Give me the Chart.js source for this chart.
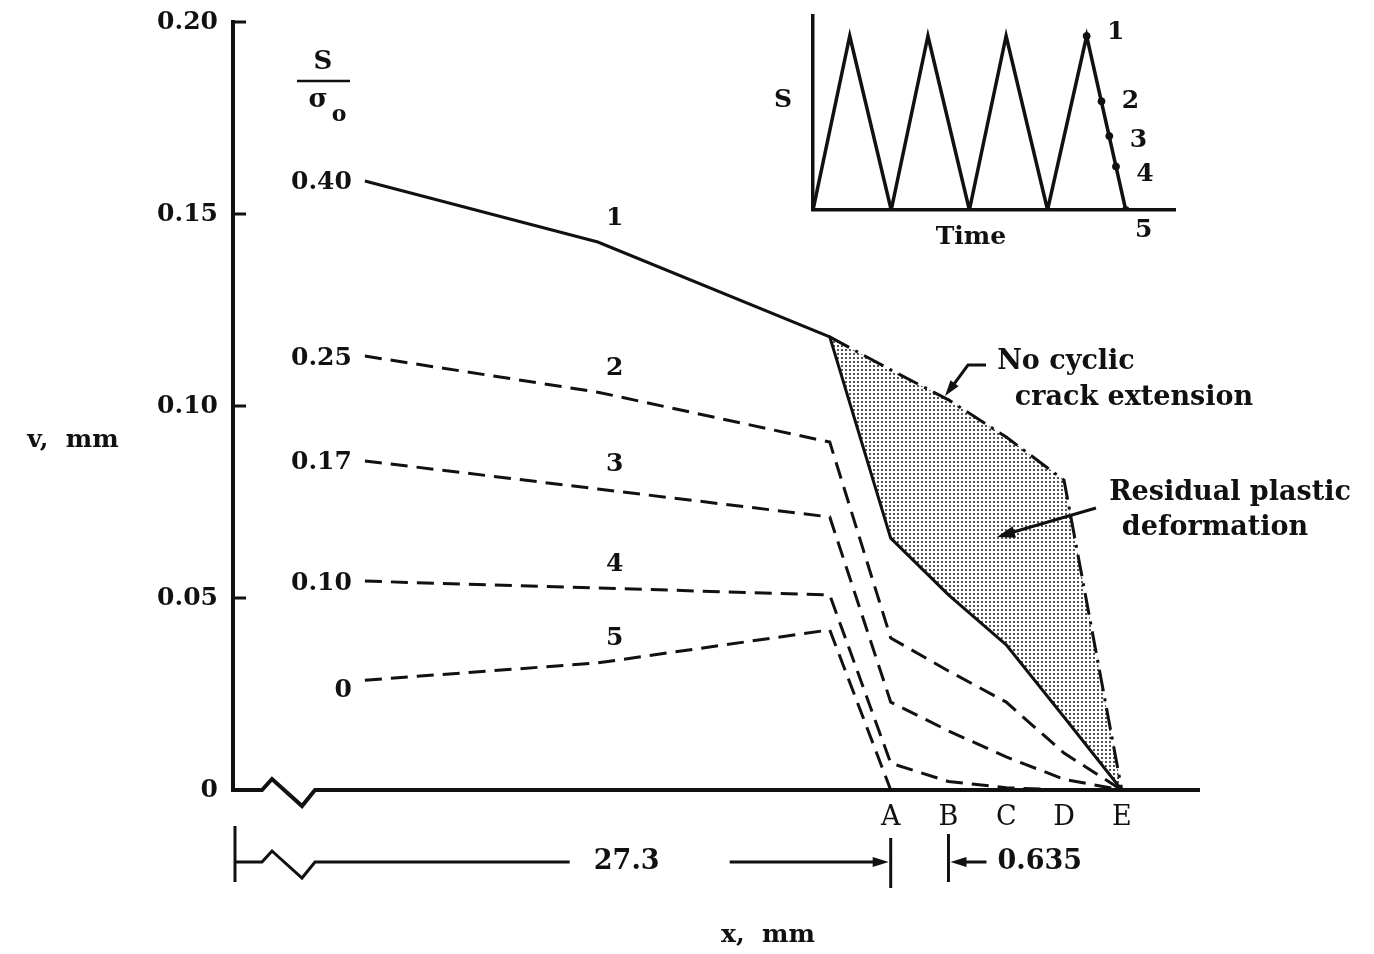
<!DOCTYPE html>
<html>
<head>
<meta charset="utf-8">
<script src="https://cdn.jsdelivr.net/npm/chart.js@4.4.0/dist/chart.umd.min.js"></script>
<style>
  html, body { margin: 0; padding: 0; background: #fff; }
  #wrap { position: relative; width: 1374px; height: 954px; }
  #main { position: absolute; left: 0; top: 0; }
  #inset { position: absolute; left: 760px; top: 0; }
</style>
</head>
<body>
<div id="wrap">
  <canvas id="main" width="1374" height="954"></canvas>
  <canvas id="inset" width="440" height="260"></canvas>
</div>
<script>
// crack-face nodes, mm measured from node A (axis is broken left of A, so those are compressed)
const xNodes = [-5.78, -3.22, -0.67, 0, 0.635, 1.27, 1.905, 2.54];
const nodeTicks = [0, 0.635, 1.27, 1.905, 2.54];
const nodeLabels = ['A', 'B', 'C', 'D', 'E'];
const yTicks = [0, 0.05, 0.10, 0.15, 0.20];

// v, mm for each load step (S/sigma_o)
const loadRatios = ['0.40', '0.25', '0.17', '0.10', '0'];
const stepNames = ['1', '2', '3', '4', '5'];
const v1 = [0.1586, 0.1427, 0.1180, 0.0656, 0.0508, 0.0378, 0.0190, 0];
const v2 = [0.1130, 0.1036, 0.0906, 0.0396, 0.0310, 0.0229, 0.0096, 0];
const v3 = [0.0857, 0.0784, 0.0711, 0.0229, 0.0154, 0.0086, 0.0028, 0];
const v4 = [0.0544, 0.0526, 0.0508, 0.0070, 0.0022, 0.0006, 0, null];
const v5 = [0.0286, 0.0331, 0.0417, 0, null, null, null, null];
// envelope with no cyclic crack extension
const vNoExt = [null, null, 0.1180, 0.1094, 0.1016, 0.0919, 0.0807, 0];

// inset: load history S vs time
const tCycle = [0, 0.47, 1, 1.47, 2, 2.47, 3, 3.5, 4];
const sCycle = [0, 0.40, 0, 0.40, 0, 0.40, 0, 0.40, 0];
const tSteps = [3.5, 3.69, 3.79, 3.875, 4];
const sSteps = [0.40, 0.25, 0.17, 0.10, 0];

const INK = '#111';
const SERIF = "'DejaVu Serif', serif";
Chart.defaults.font.family = SERIF;
Chart.defaults.color = INK;

function pts(ys) {
  return xNodes.map((x, i) => ({ x, y: ys[i] })).filter(p => p.y !== null);
}

function makeDots(ctx) {
  const c = document.createElement('canvas');
  c.width = 4; c.height = 4;
  const g = c.getContext('2d');
  g.fillStyle = '#555';
  g.fillRect(1, 1, 2, 2);
  return ctx.createPattern(c, 'repeat');
}

function seg(ctx, x1, y1, x2, y2) {
  ctx.beginPath(); ctx.moveTo(x1, y1); ctx.lineTo(x2, y2); ctx.stroke();
}

function arrowHead(ctx, fx, fy, tx, ty, len, half) {
  const a = Math.atan2(ty - fy, tx - fx);
  ctx.beginPath();
  ctx.moveTo(tx, ty);
  ctx.lineTo(tx - len * Math.cos(a) + half * Math.sin(a), ty - len * Math.sin(a) - half * Math.cos(a));
  ctx.lineTo(tx - len * Math.cos(a) - half * Math.sin(a), ty - len * Math.sin(a) + half * Math.cos(a));
  ctx.closePath();
  ctx.fill();
}

// y pixel of a drawn line at a given x pixel
function yAt(meta, px) {
  const d = meta.data;
  for (let i = 1; i < d.length; i++) {
    if (px >= d[i - 1].x && px <= d[i].x) {
      const f = (px - d[i - 1].x) / (d[i].x - d[i - 1].x);
      return d[i - 1].y + f * (d[i].y - d[i - 1].y);
    }
  }
  return d[d.length - 1].y;
}

const decor = {
  id: 'decor',
  afterDraw(chart) {
    const { ctx, chartArea: ca, scales: { x, y } } = chart;
    ctx.save();
    ctx.strokeStyle = INK;
    ctx.fillStyle = INK;
    ctx.lineCap = 'butt';

    // inward ticks on v axis
    ctx.lineWidth = 3;
    yTicks.forEach(v => {
      if (v === 0) return;
      const py = y.getPixelForValue(v);
      seg(ctx, ca.left, py, ca.left + 13, py);
    });

    // x axis with break
    const y0 = y.getPixelForValue(0);
    ctx.lineWidth = 4;
    ctx.beginPath();
    ctx.moveTo(ca.left - 2, y0);
    ctx.lineTo(ca.left + 29, y0);
    ctx.lineTo(ca.left + 39, y0 - 11);
    ctx.lineTo(ca.left + 69, y0 + 16);
    ctx.lineTo(ca.left + 82, y0);
    ctx.lineTo(ca.right, y0);
    ctx.stroke();

    // dimension line under the axis
    const ax = x.getPixelForValue(0);
    const bx = x.getPixelForValue(0.635);
    const dy = 862;
    ctx.lineWidth = 3;
    seg(ctx, ca.left + 2, 826, ca.left + 2, 882);
    ctx.beginPath();
    ctx.moveTo(ca.left + 2, dy);
    ctx.lineTo(ca.left + 29, dy);
    ctx.lineTo(ca.left + 39, dy - 11);
    ctx.lineTo(ca.left + 69, dy + 16);
    ctx.lineTo(ca.left + 82, dy);
    ctx.lineTo(ax - 321, dy);
    ctx.stroke();
    seg(ctx, ax - 161, dy, ax - 12, dy);
    arrowHead(ctx, ax - 40, dy, ax - 2, dy, 16, 5);
    seg(ctx, ax, 838, ax, 888);
    seg(ctx, bx, 834, bx, 882);
    seg(ctx, bx + 14, dy, bx + 38, dy);
    arrowHead(ctx, bx + 30, dy, bx + 2, dy, 16, 5);
    ctx.font = 'bold 27px ' + SERIF;
    ctx.textBaseline = 'middle';
    ctx.textAlign = 'center';
    ctx.fillText('27.3', ax - 264, dy);
    ctx.textAlign = 'left';
    ctx.fillText('0.635', bx + 49, dy);

    // axis titles
    ctx.font = 'bold 25px ' + SERIF;
    ctx.textAlign = 'center';
    ctx.fillText('v,  mm', 73, 440);
    ctx.fillText('x,  mm', 768, 935);

    // S / sigma_o heading
    ctx.font = 'bold 26px ' + SERIF;
    ctx.fillText('S', 323, 62);
    ctx.lineWidth = 2.5;
    seg(ctx, 297, 81, 350, 81);
    ctx.fillText('\u03C3', 318, 100);
    ctx.font = 'bold 22px ' + SERIF;
    ctx.fillText('o', 339, 115);

    // load ratio and step labels
    ctx.font = 'bold 25px ' + SERIF;
    for (let i = 0; i < 5; i++) {
      const meta = chart.getDatasetMeta(i);
      const p0 = meta.data[0];
      const p1 = meta.data[1];
      ctx.textAlign = 'right';
      ctx.fillText(loadRatios[i], p0.x - 13, p0.y + (i === 4 ? 10 : 2));
      ctx.textAlign = 'center';
      ctx.fillText(stepNames[i], p1.x + 17, p1.y - 24);
    }

    // annotations
    const env = chart.getDatasetMeta(5);
    ctx.font = 'bold 27px ' + SERIF;
    ctx.textAlign = 'center';
    ctx.fillText('No cyclic', 1066, 362);
    ctx.fillText('crack extension', 1134, 398);
    ctx.fillText('Residual plastic', 1230, 493);
    ctx.fillText('deformation', 1215, 528);

    ctx.lineWidth = 3;
    const tipX = 945;
    const tipY = yAt(env, tipX) - 2;
    ctx.beginPath();
    ctx.moveTo(986, 365);
    ctx.lineTo(968, 365);
    ctx.lineTo(tipX + 6, tipY - 8);
    ctx.stroke();
    arrowHead(ctx, 968, 365, tipX, tipY, 16, 5);

    seg(ctx, 1096, 508, 1010, 533);
    arrowHead(ctx, 1096, 508, 997, 537, 18, 6);

    ctx.restore();
  }
};

const mainCtx = document.getElementById('main').getContext('2d');
const dotFill = makeDots(mainCtx);
const dashed = [17, 9];

function curve(ys, dash) {
  return {
    data: pts(ys),
    borderColor: INK,
    borderWidth: 3,
    borderDash: dash,
    pointRadius: 0,
    fill: false,
    tension: 0
  };
}

new Chart(mainCtx, {
  type: 'line',
  data: {
    datasets: [
      curve(v1, []),
      curve(v2, dashed),
      curve(v3, dashed),
      curve(v4, dashed),
      curve(v5, dashed),
      Object.assign(curve(vNoExt, [22, 7, 3, 7]), { fill: { target: 0 }, backgroundColor: dotFill })
    ]
  },
  options: {
    responsive: false,
    animation: false,
    devicePixelRatio: 1,
    layout: { padding: { left: 0, top: 22, right: 174, bottom: 0 } },
    plugins: { legend: { display: false }, tooltip: { enabled: false } },
    scales: {
      x: {
        type: 'linear',
        min: -7.23,
        max: 3.4,
        grid: { display: false, drawTicks: false },
        border: { display: false },
        afterBuildTicks: s => { s.ticks = nodeTicks.map(v => ({ value: v })); },
        afterFit: s => { s.height = 164; s.paddingLeft = 0; s.paddingRight = 0; },
        ticks: {
          autoSkip: false,
          maxRotation: 0,
          padding: 12,
          font: { size: 27 },
          callback: v => nodeLabels[nodeTicks.indexOf(v)] ?? ''
        }
      },
      y: {
        min: 0,
        max: 0.2,
        grid: { display: false, drawTicks: false },
        border: { display: true, width: 4, color: INK },
        afterBuildTicks: s => { s.ticks = yTicks.map(v => ({ value: v })); },
        afterFit: s => { s.width = 233; s.paddingTop = 0; s.paddingBottom = 0; },
        ticks: {
          padding: 15,
          font: { size: 25, weight: 'bold' },
          callback: v => (v === 0 ? '0' : v.toFixed(2))
        }
      }
    }
  },
  plugins: [decor]
});

const insetLabels = {
  id: 'insetLabels',
  afterDraw(chart) {
    const { ctx } = chart;
    const dots = chart.getDatasetMeta(1).data;
    ctx.save();
    ctx.fillStyle = INK;
    ctx.font = 'bold 25px ' + SERIF;
    ctx.textAlign = 'center';
    ctx.textBaseline = 'middle';
    ctx.fillText('S', 23, 100);
    ctx.fillText('Time', 211, 237);
    dots.forEach((p, i) => {
      if (i < 4) ctx.fillText(stepNames[i], p.x + 29, p.y + (i - 1) * 4);
      else ctx.fillText(stepNames[i], p.x + 18, p.y + 20);
    });
    ctx.restore();
  }
};

new Chart(document.getElementById('inset').getContext('2d'), {
  type: 'line',
  data: {
    datasets: [
      {
        data: tCycle.map((t, i) => ({ x: t, y: sCycle[i] })),
        borderColor: INK,
        borderWidth: 3.5,
        pointRadius: 0,
        tension: 0
      },
      {
        data: tSteps.map((t, i) => ({ x: t, y: sSteps[i] })),
        showLine: false,
        pointRadius: 3.5,
        pointBackgroundColor: INK,
        pointBorderColor: INK
      }
    ]
  },
  options: {
    responsive: false,
    animation: false,
    devicePixelRatio: 1,
    layout: { padding: { left: 53, top: 16, right: 25, bottom: 50 } },
    plugins: { legend: { display: false }, tooltip: { enabled: false } },
    scales: {
      x: {
        type: 'linear', min: 0, max: 4.63,
        ticks: { display: false },
        grid: { display: false, drawTicks: false },
        border: { width: 3.5, color: INK },
        afterFit: s => { s.height = 0; }
      },
      y: {
        min: 0, max: 0.446,
        ticks: { display: false },
        grid: { display: false, drawTicks: false },
        border: { width: 3.5, color: INK },
        afterFit: s => { s.width = 0; }
      }
    }
  },
  plugins: [insetLabels]
});
</script>
</body>
</html>
